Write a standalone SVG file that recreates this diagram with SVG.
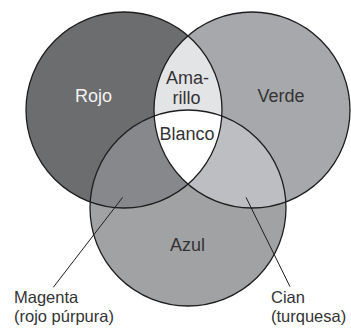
<svg xmlns="http://www.w3.org/2000/svg" width="351" height="328" viewBox="0 0 351 328">
<style>
.lbl{font-family:"Liberation Sans",Arial,sans-serif;font-size:18px;fill:#333335}
.sm{font-size:16.5px}
.light{fill:#f2f2f2}
.edge{fill:none;stroke:#1e1e1e;stroke-width:1.3}
.lead{fill:none;stroke:#1e1e1e;stroke-width:1}
</style>
<defs>
<clipPath id="cR"><circle cx="124" cy="110" r="98"/></clipPath>
<clipPath id="cG"><circle cx="252" cy="110" r="98"/></clipPath>
</defs>
<rect width="351" height="328" fill="#ffffff"/>
<g id="fills">
<circle cx="124" cy="110" r="98" fill="#6c6d6f"/>
<circle cx="252" cy="110" r="98" fill="#a7a8ab"/>
<circle cx="188" cy="208" r="98" fill="#a1a2a4"/>
<g clip-path="url(#cR)">
<circle cx="252" cy="110" r="98" fill="#e3e4e5"/>
<circle cx="188" cy="208" r="98" fill="#87888b"/>
</g>
<g clip-path="url(#cG)">
<circle cx="188" cy="208" r="98" fill="#bdbec1"/>
<g clip-path="url(#cR)"><circle cx="188" cy="208" r="98" fill="#ffffff"/></g>
</g>
</g>
<g id="rojo">
<circle class="edge" cx="124" cy="110" r="98"/>
<text class="lbl light" x="93.5" y="102" text-anchor="middle">Rojo</text>
</g>
<g id="verde">
<circle class="edge" cx="252" cy="110" r="98"/>
<text class="lbl" x="281" y="102" text-anchor="middle">Verde</text>
</g>
<g id="azul">
<circle class="edge" cx="188" cy="208" r="98"/>
<text class="lbl" x="187.5" y="251" text-anchor="middle">Azul</text>
</g>
<g id="amarillo">
<text class="lbl" x="187.5" y="84" text-anchor="middle">Ama-</text>
<text class="lbl" x="186.5" y="104" text-anchor="middle">rillo</text>
</g>
<g id="blanco">
<text class="lbl" x="187" y="140" text-anchor="middle">Blanco</text>
</g>
<g id="magenta">
<text class="lbl sm" x="14" y="303">Magenta</text>
<text class="lbl sm" x="14" y="322">(rojo púrpura)</text>
</g>
<g id="cian">
<text class="lbl sm" x="271" y="303">Cian</text>
<text class="lbl sm" x="271" y="322">(turquesa)</text>
</g>
<g id="connectors">
<line class="lead" x1="122.7" y1="197.3" x2="53.3" y2="287.3"/>
<line class="lead" x1="246" y1="197.3" x2="290" y2="286.7"/>
</g>
</svg>
